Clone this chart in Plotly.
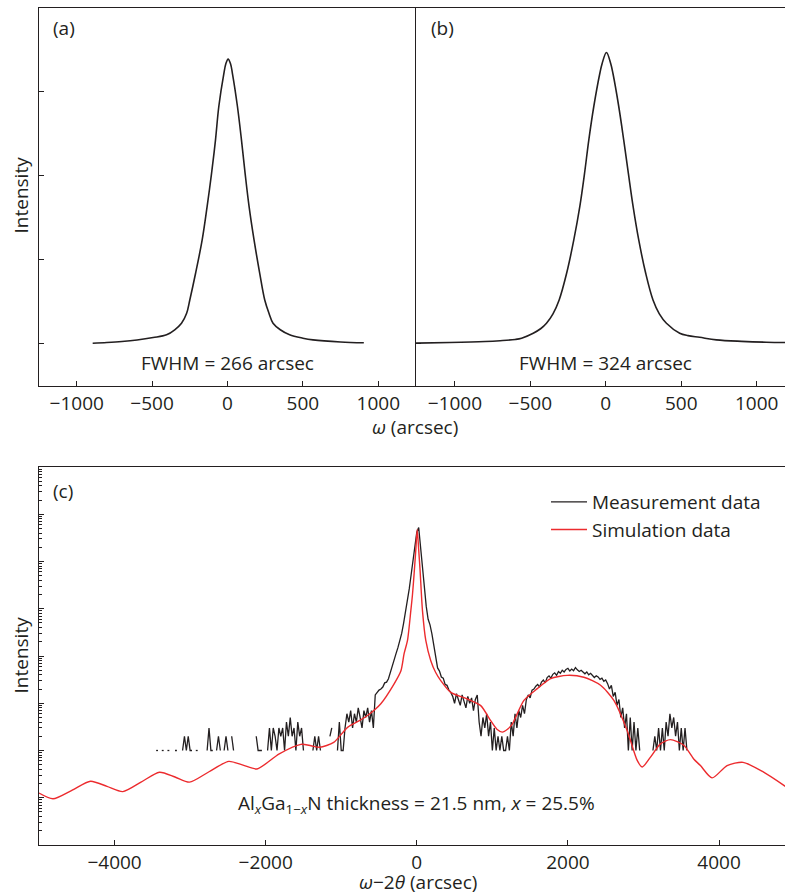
import plotly.graph_objects as go

W, H = 785, 896
INK = "#231f20"
RED = "#ec2b2e"
FONT = "Open Sans"

# ---------------- Panel (a): rocking curve, FWHM 266 arcsec ----------------
a_omega = [-894, -800, -700, -600, -493, -404, -350, -305, -271, -250, -212, -168, -135, -106,
           -79.7, -57.6, -24.5, -11, 4, 20, 33, 66, 92.7, 117, 143, 176, 214, 247,
           275, 302, 350, 412, 500, 567, 750, 904]
a_int = [0, 8, 20, 38, 67, 100, 160, 238, 357, 515, 830, 1230, 1630, 2020,
         2420, 2820, 3210, 3330, 3385, 3330, 3210, 2820, 2420, 2020, 1630, 1230, 830, 515,
         357, 238, 160, 100, 60, 40, 15, 5]

# ---------------- Panel (b): rocking curve, FWHM 324 arcsec ----------------
b_omega = [-1300, -1034, -800, -700, -600, -558, -481, -430, -393, -350, -309, -260, -212, -172, -141,
           -112.6, -79.5, -40, -24.5, 4.4, 33, 48, 86, 119, 150, 181, 218.5, 265, 313,
           355, 402, 490, 545, 622, 733, 900, 1064, 1250]
b_int = [0, 8, 20, 30, 45, 60, 119, 175, 238, 350, 515, 830, 1230, 1630, 2020,
         2420, 2820, 3210, 3330, 3464, 3330, 3210, 2820, 2420, 2020, 1630, 1230, 830, 515,
         350, 238, 119, 90, 70, 40, 22, 12, 8]

# ---------------- Panel (c): omega-2theta scan ----------------
meas_start = -3450
meas_step = 25
meas_counts = [
    # -3450 .. -2975
    1, 1, None, 1, 1, None, 1, 1, None, None, 1, 1, None, None, 1, 2, 1, 2, 1, 1,
    # -2950 .. -2475
    None, 1, 1, None, None, None, None, 1, 3, 1, 1, None, 1, 2, 1, None, 1, 2, 1, None,
    # -2450 .. -1975
    2, 1, None, None, None, None, None, None, None, None, None, None, None, 2, 1, 1, 1, None, None, 1,
    # -1950 .. -1475
    3, 1, 3, 2, 1, 3, 2, 3, 1, 4, 2, 5, 2, 3, 1, 4, 2, 3, 1, None,
    # -1450 .. -975
    None, None, None, 1, 2, 1, 2, 1, None, None, None, None, 2, 3, None, None, 1, 4, 1, 1,
    # -950 .. -475
    3, 6, 4, 7, 3, 6, 4, 8, 5, 3, 7, 5, 8, 4, 7, 3, 15, 17, 19, 20,
    # -450 .. 25
    22, 27, 28, 33, 46, 60, 80, 112, 150, 205, 300, 490, 810, 1410, 2630, 5250, 10700, 22400, 41700, 52500,
    # 50 .. 525
    19000, 7080, 3160, 1120, 600, 457, 295, 170, 95, 56, 48, 36, 34, 25, 24, 19, 17, 14, 10, 16,
    # 550 .. 1025
    12, 9, 15, 11, 8, 14, 10, 13, 7, 12, 15, 4, 2, 5, 3, 6, 2, 4, 1, 3,
    # 1050 .. 1525
    1, 2, 1, 2, 1, 1, 2, 1, 4, 2, 6, 3, 7, 5, 9, 6, 12, 15, 13, 19,
    # 1550 .. 2025
    20, 23, 25, 22, 28, 31, 27, 35, 38, 34, 41, 44, 39, 47, 43, 50, 46, 52, 55, 48,
    # 2050 .. 2525
    53, 49, 57, 51, 47, 50, 45, 42, 46, 40, 43, 39, 35, 38, 36, 32, 34, 29, 31, 26,
    # 2550 .. 3025
    20, 24, 14, 17, 9, 12, 5, 8, 3, 6, 1, 5, 1, 4, 1, 3, 1, None, None, None,
    # 3050 .. 3575
    None, None, None, 1, 2, 1, 3, 1, 3, 1, 4, 2, 6, 3, 5, 2, 4, 1, 3, 1, 3, 1,
]
meas_x = [meas_start + meas_step * i for i in range(len(meas_counts))]

sim_x = [-5000, -4815, -4560, -4318, -4100, -3890, -3650, -3406, -3200, -3009, -2750,
         -2489, -2300, -2115, -1820, -1533, -1400, -1285, -1100, -916, -760, -652, -476,
         -300, -211, -168, -123, -79, -57, -35, -13, 5, 25, 44, 75, 119, 185, 250, 317,
         449, 670, 846, 978, 1060, 1132, 1200, 1264, 1418, 1595, 1771, 1991, 2211, 2432,
         2608, 2785, 2917, 2983, 3093, 3225, 3357, 3533, 3665, 3754, 3908, 4106, 4318,
         4590, 4877]
sim_counts = [0.126, 0.095, 0.145, 0.224, 0.174, 0.135, 0.214, 0.347, 0.275, 0.214, 0.355,
              0.589, 0.490, 0.407, 0.851, 1.35, 1.26, 1.17, 1.48, 3.09, 4.27, 5.50, 9.77,
              25.7, 47.9, 112, 214, 912, 2000, 5620, 17800, 47900, 17800, 6310, 912, 214, 79.4, 44.7, 30.2,
              17.0, 12.3, 8.91, 4.27, 2.82, 2.45, 2.82, 3.63, 11.5, 20.4, 33.1, 38.9, 35.5, 24.0,
              11.5, 2.63, 0.617, 0.447, 0.724, 1.38, 1.70, 1.29, 0.661, 0.479, 0.263, 0.479, 0.562,
              0.347, 0.174]

x_ticks_ab = [-1000, -500, 0, 500, 1000]
x_ticks_c = [-4000, -2000, 0, 2000, 4000]


def tick_text(v):
    return ("\u2212" + str(abs(v))) if v < 0 else str(v)


fig = go.Figure()
fig.add_trace(go.Scatter(x=a_omega, y=a_int, mode="lines", line=dict(color=INK, width=1.6, shape="spline", smoothing=1.0),
                         xaxis="x", yaxis="y", showlegend=False))
fig.add_trace(go.Scatter(x=b_omega, y=b_int, mode="lines", line=dict(color=INK, width=1.6, shape="spline", smoothing=1.0),
                         xaxis="x2", yaxis="y2", showlegend=False))
fig.add_trace(go.Scatter(x=meas_x, y=meas_counts, mode="lines", name="Measurement data",
                         line=dict(color=INK, width=1.3), connectgaps=False,
                         xaxis="x3", yaxis="y3"))
fig.add_trace(go.Scatter(x=sim_x, y=sim_counts, mode="lines", name="Simulation data",
                         line=dict(color=RED, width=1.4, shape="spline", smoothing=0.7),
                         xaxis="x3", yaxis="y3"))

xl = 39 / W
xm = 416 / W
top_dom = [1 - 386 / H, 1 - 8.3 / H]
bot_dom = [1 - 845 / H, 1 - 467 / H]

axcommon = dict(showline=True, linecolor=INK, linewidth=1, ticks="inside", tickcolor=INK,
                showgrid=False, zeroline=False, tickfont=dict(family=FONT, size=19, color=INK))

fig.update_layout(
    width=W, height=H, margin=dict(l=0, r=0, t=0, b=0),
    paper_bgcolor="white", plot_bgcolor="white",
    font=dict(family=FONT, size=19, color=INK),
    xaxis=dict(domain=[xl, xm], range=[-1250, 1250], tickvals=x_ticks_ab,
               ticktext=[tick_text(v) for v in x_ticks_ab], ticklen=5, mirror=True,
               anchor="y", **axcommon),
    yaxis=dict(domain=top_dom, range=[-510, 3990], tickvals=[0, 1000, 2000, 3000],
               showticklabels=False, ticklen=5, anchor="x", **axcommon),
    xaxis2=dict(domain=[xm, 1.0], range=[-1258, 1188], tickvals=x_ticks_ab,
                ticktext=[tick_text(v) for v in x_ticks_ab], ticklen=5, mirror=True,
                anchor="y2", **axcommon),
    yaxis2=dict(domain=top_dom, range=[-510, 3990], tickvals=[0], showticklabels=False,
                ticklen=5, anchor="x2", **axcommon),
    xaxis3=dict(domain=[xl, 1.0], range=[-5000, 4873], tickvals=x_ticks_c,
                ticktext=[tick_text(v) for v in x_ticks_c], ticklen=5, mirror=True,
                anchor="y3", **axcommon),
    yaxis3=dict(domain=bot_dom, type="log", range=[-2, 6], dtick=1, showticklabels=False,
                ticklen=5, anchor="x3",
                minor=dict(ticks="inside", ticklen=3, tickcolor=INK, showgrid=False),
                **axcommon),
    legend=dict(x=546 / W, xanchor="left", y=1 - 483 / H, yanchor="top",
                bgcolor="rgba(0,0,0,0)", font=dict(family=FONT, size=19, color=INK),
                itemwidth=36, tracegroupgap=0),
)


def ann(text, px, py, angle=0):
    fig.add_annotation(text=text, x=px / W, y=1 - py / H, xref="paper", yref="paper",
                       showarrow=False, textangle=angle, xanchor="center", yanchor="middle",
                       font=dict(family=FONT, size=19, color=INK))


ann("(a)", 64, 28)
ann("(b)", 442.5, 28)
ann("(c)", 63, 491)
ann("FWHM = 266 arcsec", 227, 363)
ann("FWHM = 324 arcsec", 605.5, 363)
ann("Intensity", 20.5, 195, -90)
ann("Intensity", 20.5, 655, -90)
ann("<i>\u03c9</i> (arcsec)", 415, 427)
ann("<i>\u03c9</i>\u22122<i>\u03b8</i> (arcsec)", 418, 882)
ann("Al<sub><i>x</i></sub>Ga<sub>1\u2212<i>x</i></sub>N thickness = 21.5 nm, <i>x</i> = 25.5%", 416, 804)

fig.write_html("out.html", config={"displayModeBar": False},
               post_script="document.body.style.margin='0px';document.body.style.overflow='hidden';")
